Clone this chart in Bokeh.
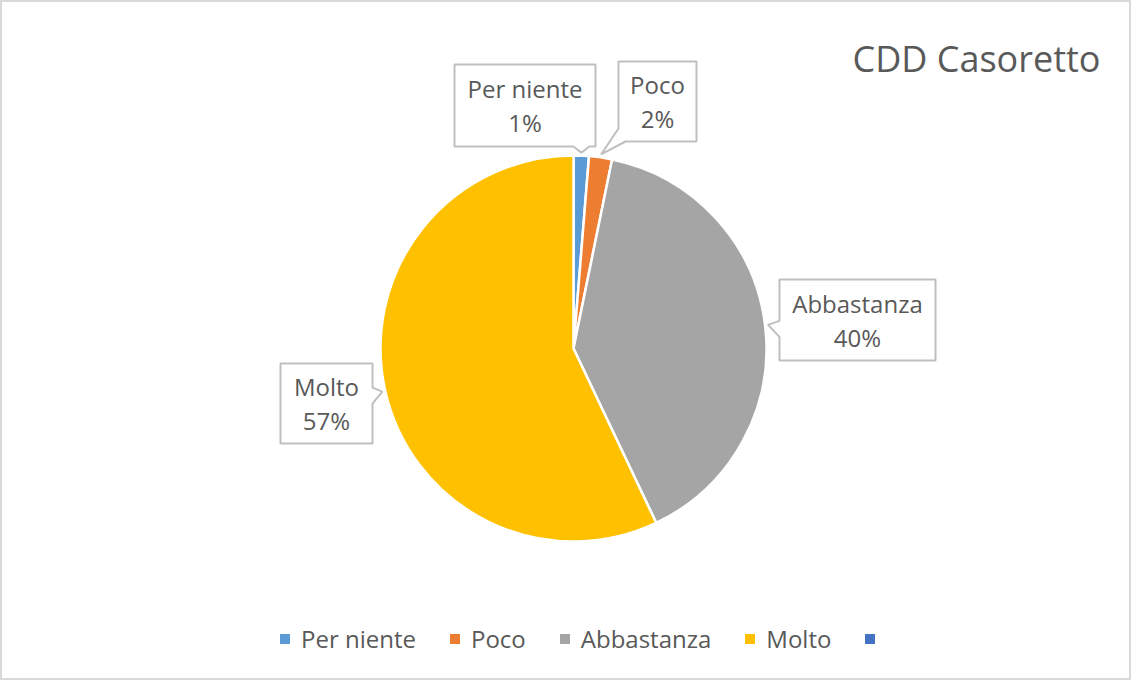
import math
from bokeh.plotting import figure
from bokeh.models import Range1d, Legend, LegendItem, ColumnDataSource
from bokeh.core.properties import value
from bokeh.embed import file_html
from bokeh.resources import INLINE

# ---------------- data ----------------
title_text = "CDD Casoretto"
categories = ["Per niente", "Poco", "Abbastanza", "Molto", ""]
counts = [2, 3, 62, 89, 0]
colors = ["#5B9BD5", "#ED7D31", "#A5A5A5", "#FFC000", "#4472C4"]

# ---------------- layout ----------------
W, H = 1131, 680
FONT = "Open Sans"
TXT = "#595959"


def px(x):
    return x - 8


def py(y):
    return 688 - y


PCX, PCY, R = 581, 356, 193          # pie centre in page px, radius
CX, CY = px(PCX), py(PCY)

# callout boxes in page px: left, top, right, bottom, pointer side
callout_layout = {
    "Per niente": (462, 72, 603, 154, "bottom"),
    "Poco": (626, 69, 704, 149, "corner"),
    "Abbastanza": (787, 287, 943, 368, "left"),
    "Molto": (288, 371, 380, 451, "right"),
}

p = figure(width=W, height=H, x_range=Range1d(0, W), y_range=Range1d(0, H),
           output_backend="svg", toolbar_location=None, min_border=0)
p.axis.visible = False
p.grid.visible = False
p.outline_line_color = "#D9D9D9"
p.outline_line_width = 3
p.background_fill_color = "white"
p.border_fill_color = "white"

total = float(sum(counts))
starts, ends, mids = [], [], []
cum = 0.0
for c in counts:
    a0 = cum / total
    cum += c
    a1 = cum / total
    starts.append(math.pi / 2 - 2 * math.pi * a0)
    ends.append(math.pi / 2 - 2 * math.pi * a1)
    mids.append((a0 + a1) / 2)

idx = [i for i, c in enumerate(counts) if c > 0]
src = ColumnDataSource(dict(
    start=[starts[i] for i in idx],
    end=[ends[i] for i in idx],
    color=[colors[i] for i in idx],
))
p.wedge(x=CX, y=CY, radius=R, start_angle="start", end_angle="end",
        direction="clock", fill_color="color", line_color="white",
        line_width=2.5, source=src)

# ---------------- callouts ----------------
xs, ys = [], []
tx, ty, tt = [], [], []
for i in idx:
    cat = categories[i]
    if cat not in callout_layout:
        continue
    L, T, Rr, B, side = callout_layout[cat]
    th = 2 * math.pi * mids[i]
    tipx = PCX + (R + 3) * math.sin(th)
    tipy = PCY - (R + 3) * math.cos(th)
    hw = 8
    if side == "bottom":
        bx = min(max(tipx, L + hw), Rr - hw)
        pts = [(L, T), (Rr, T), (Rr, B), (bx + hw, B), (tipx, tipy), (bx - hw, B), (L, B)]
    elif side == "corner":
        pts = [(L, T), (Rr, T), (Rr, B), (L + 7, B), (tipx, tipy), (L, B - 13)]
    elif side == "left":
        by = min(max(tipy + 4, T + hw), B - hw)
        pts = [(L, T), (Rr, T), (Rr, B), (L, B), (L, by + hw), (tipx, tipy), (L, by - hw)]
    else:
        by = min(max(tipy + 4, T + hw), B - hw)
        pts = [(L, T), (Rr, T), (Rr, by - hw), (tipx, tipy), (Rr, by + hw), (Rr, B), (L, B)]
    xs.append([px(a) for a, b in pts])
    ys.append([py(b) for a, b in pts])
    cxm = (L + Rr) / 2
    cym = (T + B) / 2
    pct = round(counts[i] / total * 100)
    tx += [px(cxm), px(cxm)]
    ty += [py(cym - 17), py(cym + 17)]
    tt += [cat, f"{pct}%"]

p.patches(xs=xs, ys=ys, fill_color="white", line_color="#BFBFBF", line_width=2)
p.text(x=tx, y=ty, text=tt, text_font=value(FONT), text_font_size="24px",
       text_color=TXT, text_align="center", text_baseline="middle")

# ---------------- title ----------------
p.text(x=[px(1108)], y=[py(66)], text=[title_text], text_font=value(FONT),
       text_font_size="36px", text_color=TXT, text_align="right",
       text_baseline="middle")

# ---------------- legend ----------------
items = []
nan = float("nan")
for cat, col in zip(categories, colors):
    r = p.scatter(x=[nan], y=[nan], marker="square", fill_color=col, line_color=None)
    items.append(LegendItem(label=value(cat if cat else " "), renderers=[r]))

legend = Legend(items=items, orientation="horizontal", location=(272, 25),
                glyph_width=25, glyph_height=25, label_standoff=4, spacing=26,
                padding=0, margin=0, border_line_alpha=0, background_fill_alpha=0,
                label_text_font=FONT, label_text_font_size="24px",
                label_text_color=TXT)
p.add_layout(legend)

open("out.html", "w").write(file_html(p, INLINE))
